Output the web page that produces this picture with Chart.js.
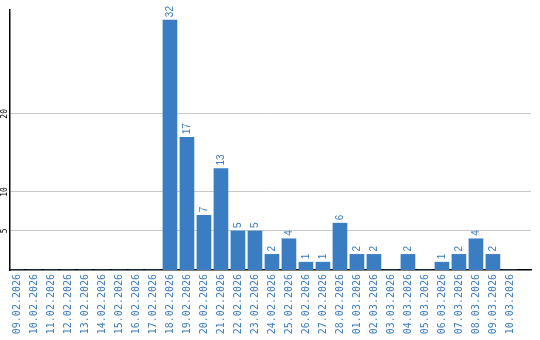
<!DOCTYPE html>
<html>
<head>
<meta charset="utf-8">
<script src="https://cdn.jsdelivr.net/npm/chart.js@4/dist/chart.umd.min.js"></script>
<style>
    html, body { margin: 0; padding: 0; background: #fff; }
    #wrap { width: 540px; height: 340px; }
</style>
</head>
<body>
<div id="wrap"><canvas id="chart"></canvas></div>
<script>
// Données du graphique
const dates = [
    '09.02.2026', '10.02.2026', '11.02.2026', '12.02.2026', '13.02.2026',
    '14.02.2026', '15.02.2026', '16.02.2026', '17.02.2026', '18.02.2026',
    '19.02.2026', '20.02.2026', '21.02.2026', '22.02.2026', '23.02.2026',
    '24.02.2026', '25.02.2026', '26.02.2026', '27.02.2026', '28.02.2026',
    '01.03.2026', '02.03.2026', '03.03.2026', '04.03.2026', '05.03.2026',
    '06.03.2026', '07.03.2026', '08.03.2026', '09.03.2026', '10.03.2026'
];
const counts = [
    0, 0, 0, 0, 0, 0, 0, 0, 0, 32,
    17, 7, 13, 5, 5, 2, 4, 1, 1, 6,
    2, 2, 0, 2, 0, 1, 2, 4, 2, 0
];
const yTicks = [5, 10, 20];

const BLUE = '#3a7dc2';
const LABEL_BLUE = '#3b7bbf';

/**
 * Valeurs au-dessus des barres (texte vertical)
 */
const valueLabels = {
    id: 'valueLabels',
    afterDatasetsDraw(chart) {
        const ctx = chart.ctx;
        const meta = chart.getDatasetMeta(0);
        ctx.save();
        ctx.fillStyle = LABEL_BLUE;
        ctx.font = '10px "Liberation Sans", Arial, sans-serif';
        ctx.textAlign = 'left';
        ctx.textBaseline = 'middle';
        meta.data.forEach((bar, i) => {
            const v = counts[i];
            if (!v) return;
            ctx.save();
            ctx.translate(bar.x, bar.y - 3);
            ctx.rotate(-Math.PI / 2);
            ctx.fillText(String(v), 0, 0);
            ctx.restore();
        });
        ctx.restore();
    }
};

const ctx = document.getElementById('chart').getContext('2d');

new Chart(ctx, {
    type: 'bar',
    data: {
        datasets: [{
            data: counts.map((v, i) => ({ x: i, y: v })),
            backgroundColor: BLUE,
            borderWidth: 0,
            barThickness: 14
        }]
    },
    options: {
        responsive: true,
        maintainAspectRatio: false,
        animation: false,
        layout: { padding: { top: 10, right: 9, bottom: 0, left: 0 } },
        plugins: {
            legend: { display: false },
            tooltip: { enabled: false }
        },
        scales: {
            x: {
                type: 'linear',
                offset: false,
                min: -0.41,
                max: 30.24,
                afterBuildTicks: (scale) => {
                    scale.ticks = dates.map((_, i) => ({ value: i }));
                },
                afterFit: (scale) => { scale.height = 70; },
                grid: { display: false, drawTicks: false },
                border: { display: true, color: '#000', width: 1.5 },
                ticks: {
                    autoSkip: false,
                    minRotation: 90,
                    maxRotation: 90,
                    padding: 4,
                    color: LABEL_BLUE,
                    font: { family: '"DejaVu Sans Mono", monospace', size: 10 },
                    callback: (v) => dates[v]
                }
            },
            y: {
                min: 0,
                max: 33.3,
                afterBuildTicks: (scale) => {
                    scale.ticks = yTicks.map(v => ({ value: v }));
                },
                afterFit: (scale) => { scale.width = 10; },
                grid: { color: '#c8c8c8', lineWidth: 1, drawTicks: false },
                border: { display: true, color: '#000', width: 1.5 },
                ticks: {
                    minRotation: 90,
                    maxRotation: 90,
                    crossAlign: 'center',
                    padding: 0,
                    color: '#000',
                    font: { family: '"DejaVu Sans Mono", monospace', size: 8 }
                }
            }
        }
    },
    plugins: [valueLabels]
});
</script>
</body>
</html>
